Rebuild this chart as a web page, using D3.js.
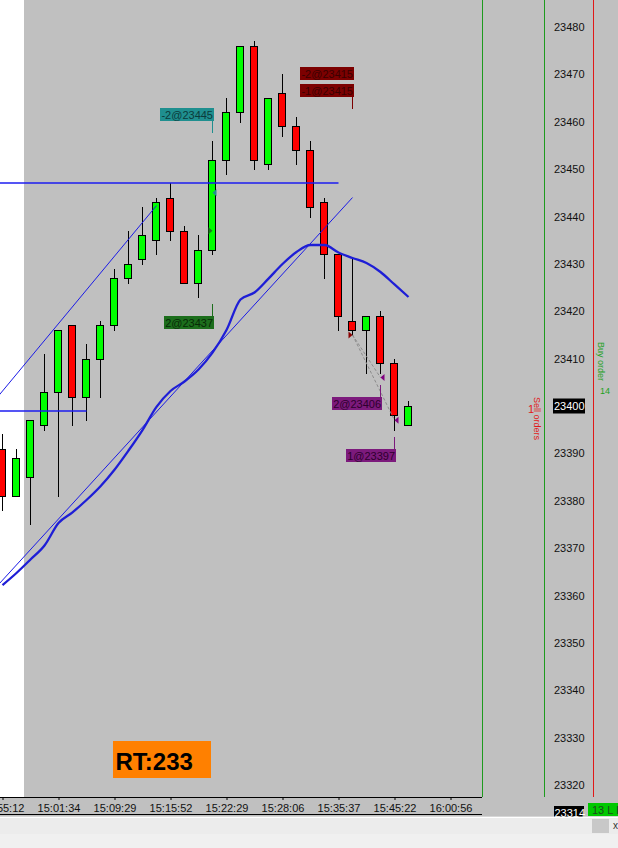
<!DOCTYPE html>
<html><head><meta charset="utf-8">
<script src="https://cdn.jsdelivr.net/npm/d3@7"></script>
<style>html,body{margin:0;padding:0;background:#c0c0c0;overflow:hidden}svg{display:block}text{font-family:"Liberation Sans",Arial,sans-serif}</style>
</head><body><script>
// ---- data ----
const openP  = [23391,23381,23385,23396,23403,23417,23402,23410,23417,23427,23431,23435,23444,23437,23426,23433,23452,23462,23476,23451,23466,23459,23454,23443,23432,23418,23416,23419,23409,23396];
const highP  = [23394,23391,23397,23411,23416,23417,23413,23418,23429,23437,23442,23444,23447,23438,23436,23456,23465,23476,23477,23465,23470,23461,23456,23444,23432,23431,23419,23420,23410,23401];
const lowP   = [23378,23381,23375,23395,23381,23396,23397,23402,23416,23426,23430,23432,23435,23426,23423,23432,23449,23460,23450,23450,23457,23451,23440,23427,23416,23415,23407,23407,23395,23396];
const closeP = [23381,23389,23397,23403,23416,23402,23410,23417,23427,23430,23436,23443,23437,23426,23433,23452,23462,23476,23452,23465,23459,23454,23442,23432,23419,23416,23419,23409,23398,23400];
const maValues = [23362.2,23364.75,23367.6,23370.55,23375.3,23377.56,23380.16,23383.07,23386.55,23390.6,23394.93,23399.8,23403.17,23405.17,23407.7,23411.25,23416.04,23422.48,23423.96,23426.89,23429.97,23432.51,23433.98,23433.98,23432.4,23431.24,23430.18,23428.28,23425.65,23423.01];
const timeTickIdx = [0,4,8,12,16,20,24,28,32];
const timeLabels = ["14:55:12","15:01:34","15:09:29","15:15:52","15:22:29","15:28:06","15:35:37","15:45:22","16:00:56"];
const priceTicks = [23320,23330,23340,23350,23360,23370,23380,23390,23400,23410,23420,23430,23440,23450,23460,23470,23480];
const lastPrice = 23400;
const lowMarker = 23314;
const trendLines = [ {i1:-1,p1:23399.6,i2:11,p2:23442.3}, {i1:-1,p1:23360.0,i2:25,p2:23444.0} ];
const hLines = [ {i1:-1,i2:24,p:23447}, {i1:-1,i2:6,p:23399} ];
const fills = [
  {i:15,p:23445,dir:"left", color:"#1f8f8f"},
  {i:15,p:23437,dir:"right",color:"#1c7a1c"},
  {i:25,p:23415,dir:"right",color:"#8b0000"},
  {i:27,p:23406,dir:"left", color:"#800080"},
  {i:28,p:23397,dir:"left", color:"#800080"}
];
const tradeLinks = [ {from:2,to:3}, {from:2,to:4} ];
const tradeLabels = [
  {text:"-2@23445",qty:-2,i:15,tag:23457.7,stack:0,fill:"#1f8f8f",ink:"#0b3b3b"},
  {text:"2@23437", qty:2, i:15,tag:23421.5,stack:0,fill:"#1c6e1c",ink:"#072a07"},
  {text:"-2@23415",qty:-2,i:25,tag:23462.6,stack:1,fill:"#7c0000",ink:"#3a0000"},
  {text:"-1@23415",qty:-1,i:25,tag:23462.6,stack:0,fill:"#7c0000",ink:"#3a0000"},
  {text:"2@23406", qty:2, i:27,tag:23404.4,stack:0,fill:"#7c1a7c",ink:"#2e002e"},
  {text:"1@23397", qty:1, i:28,tag:23393.5,stack:0,fill:"#7c1a7c",ink:"#2e002e"}
];

// ---- layout ----
const W=618,H=848, plotR=483, axisY=797;
const candles = openP.map((o,i)=>({i,o,h:highP[i],l:lowP[i],c:closeP[i]}));
const x = d3.scaleLinear().domain([0,1]).range([2.5,16.5]);
const y = d3.scaleLinear().domain([23320,23480]).range([785,27]);
const svg = d3.select("body").append("svg").attr("width",W).attr("height",H);

svg.append("rect").attr("width",W).attr("height",H).attr("fill","#c0c0c0");
svg.append("rect").attr("x",0).attr("y",0).attr("width",24).attr("height",axisY).attr("fill","#ffffff");
svg.append("clipPath").attr("id","pc").append("rect").attr("x",0).attr("y",0).attr("width",plotR).attr("height",axisY);
const g = svg.append("g").attr("clip-path","url(#pc)");

// candles
const cg = g.append("g").attr("shape-rendering","crispEdges");
cg.selectAll("line").data(candles).join("line")
  .attr("x1",d=>x(d.i)).attr("x2",d=>x(d.i))
  .attr("y1",d=>Math.round(y(d.h))).attr("y2",d=>Math.round(y(d.l))+1)
  .attr("stroke","#000").attr("stroke-width",1);
cg.selectAll("rect").data(candles).join("rect")
  .attr("x",d=>x(d.i)-4).attr("width",7)
  .attr("y",d=>Math.round(y(Math.max(d.o,d.c)))+0.5)
  .attr("height",d=>Math.max(1,Math.round(y(Math.min(d.o,d.c)))-Math.round(y(Math.max(d.o,d.c)))))
  .attr("fill",d=>d.c>=d.o?"#00ff00":"#ff0000").attr("stroke","#000").attr("stroke-width",1);

// lines
g.selectAll("line.tl").data(trendLines).join("line").attr("class","tl")
  .attr("x1",d=>x(d.i1)).attr("y1",d=>y(d.p1)).attr("x2",d=>x(d.i2)).attr("y2",d=>y(d.p2))
  .attr("stroke","#1a1ae6").attr("stroke-width",1);
g.selectAll("path.hl").data(hLines).join("path").attr("class","hl")
  .attr("d",d=>`M${x(d.i1)},${Math.round(y(d.p))}H${x(d.i2)}`)
  .attr("fill","none").attr("stroke","#1c1cf0").attr("stroke-width",1.4);
g.append("path").datum(maValues)
  .attr("d",d3.line().x((d,i)=>x(i)).y(d=>y(d)).curve(d3.curveMonotoneX))
  .attr("fill","none").attr("stroke","#1e1ed6").attr("stroke-width",2.3);

// trade links
g.selectAll("line.tk").data(tradeLinks).join("line").attr("class","tk")
  .attr("x1",d=>x(fills[d.from].i)).attr("y1",d=>y(fills[d.from].p))
  .attr("x2",d=>x(fills[d.to].i)).attr("y2",d=>y(fills[d.to].p))
  .attr("stroke","#8c8c8c").attr("stroke-width",1).attr("stroke-dasharray","3,2");

// fill markers
g.selectAll("path.fm").data(fills).join("path").attr("class","fm")
  .attr("d",d=>{const cx=x(d.i), cy=y(d.p);
    return d.dir==="left" ? `M${cx},${cy}L${cx+4},${cy-3.5}L${cx+4},${cy+3.5}Z` : `M${cx},${cy}L${cx-4},${cy-3.5}L${cx-4},${cy+3.5}Z`;})
  .attr("fill",d=>d.color);

// trade labels
const lg = g.append("g").attr("shape-rendering","crispEdges");
tradeLabels.forEach(d=>{
  const tx = Math.round(x(d.i)), ty = Math.round(y(d.tag));
  const boxH=13, conn=12, gap=4;
  let top;
  if(d.qty<0){ top = ty-conn-boxH-d.stack*(boxH+gap); }
  else { top = ty+conn+d.stack*(boxH+gap); }
  if(d.stack===0){
    const y1 = d.qty<0 ? ty-conn : ty, y2 = d.qty<0 ? ty : ty+conn;
    lg.append("line").attr("x1",tx-0.5).attr("x2",tx-0.5).attr("y1",y1).attr("y2",y2).attr("stroke",d.fill).attr("stroke-width",1);
  }
  const t = lg.append("text").attr("font-size",11).attr("fill",d.ink).text(d.text);
  const w = t.node().getComputedTextLength()+2;
  lg.insert("rect","text").attr("x",tx+1-w).attr("y",top).attr("width",w).attr("height",boxH).attr("fill",d.fill);
  t.attr("x",tx+2-w).attr("y",top+boxH-2);
});

// x axis
svg.append("line").attr("x1",0).attr("x2",482).attr("y1",axisY+0.5).attr("y2",axisY+0.5).attr("stroke","#000").attr("shape-rendering","crispEdges");
svg.append("line").attr("x1",0).attr("x2",482).attr("y1",814.5).attr("y2",814.5).attr("stroke","#000").attr("shape-rendering","crispEdges");
const xa = svg.append("g").attr("transform",`translate(0,${axisY})`)
  .call(d3.axisBottom(x).tickValues(timeTickIdx).tickFormat((d,k)=>timeLabels[k]).tickSize(3).tickPadding(4));
xa.select(".domain").remove();
xa.selectAll("text").attr("font-size",11).attr("fill","#111").attr("font-family","'Liberation Sans',Arial,sans-serif");

// separators
svg.append("line").attr("x1",482.5).attr("x2",482.5).attr("y1",0).attr("y2",axisY).attr("stroke","#1e9b1e");
svg.append("line").attr("x1",544.5).attr("x2",544.5).attr("y1",0).attr("y2",axisY).attr("stroke","#1e9b1e");
svg.append("line").attr("x1",593.5).attr("x2",593.5).attr("y1",0).attr("y2",axisY).attr("stroke","#e01818");

// y axis
const ya = svg.append("g").attr("transform","translate(545,0)")
  .call(d3.axisRight(y).tickValues(priceTicks).tickFormat(d3.format("d")).tickSize(0).tickPadding(9));
ya.select(".domain").remove();
ya.selectAll("text").attr("font-size",11).attr("fill","#111").attr("font-family","'Liberation Sans',Arial,sans-serif");

// last price box
svg.append("rect").attr("x",553).attr("y",Math.round(y(lastPrice))-7.5).attr("width",32).attr("height",15).attr("fill","#000");
svg.append("text").attr("x",554).attr("y",y(lastPrice)).attr("dy","0.32em").attr("font-size",11).attr("fill","#fff").text(lastPrice);

// side texts (rotated)
svg.append("text").attr("x",528).attr("y",413).attr("font-size",11).attr("fill","#e01818").text("1");
svg.append("text").attr("transform","translate(534,397) rotate(90)").attr("font-size",9).attr("fill","#e01818").text("Sell orders");
svg.append("text").attr("transform","translate(598,342) rotate(90)").attr("font-size",9).attr("fill","#1ea01e").text("Buy order");
svg.append("text").attr("x",600).attr("y",394).attr("font-size",9).attr("fill","#1ea01e").text("14");

// RT box
svg.append("rect").attr("x",113).attr("y",741).attr("width",98).attr("height",37).attr("fill","#ff8000");
svg.append("text").attr("x",115.5).attr("y",770).attr("font-size",24).attr("font-weight","bold").attr("fill","#000").text("RT:233");

// bottom markers
svg.append("rect").attr("x",554).attr("y",806).attr("width",30).attr("height",15).attr("fill","#000");
svg.append("text").attr("x",554.5).attr("y",817).attr("font-size",11).attr("fill","#fff").text(lowMarker);
svg.append("rect").attr("x",588).attr("y",803).attr("width",30).attr("height",13).attr("fill","#00c800");
svg.append("text").attr("x",592).attr("y",814).attr("font-size",11).attr("fill","#1e4a1e").text("13 L I");

// bottom strip
svg.append("rect").attr("x",0).attr("y",816.5).attr("width",W).attr("height",H-816.5).attr("fill","#ececec");
svg.append("rect").attr("x",0).attr("y",834).attr("width",W).attr("height",H-834).attr("fill","#f0f0f0");
svg.append("line").attr("x1",0).attr("x2",W).attr("y1",817.5).attr("y2",817.5).attr("stroke","#ffffff");
svg.append("rect").attr("x",592).attr("y",819).attr("width",17).attr("height",14).attr("fill","#c8c8c8");
svg.append("text").attr("x",613).attr("y",829).attr("font-size",10).attr("fill","#333").text("x");
</script></body></html>
